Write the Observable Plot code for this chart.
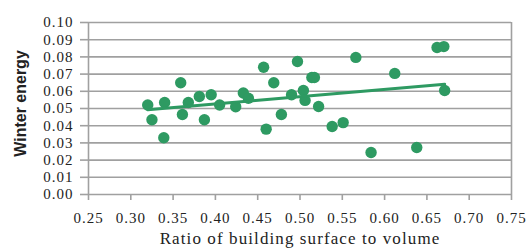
<!DOCTYPE html>
<html><head><meta charset="utf-8">
<script src="https://cdn.jsdelivr.net/npm/d3@7"></script>
<script src="https://cdn.jsdelivr.net/npm/@observablehq/plot@0.6"></script>
<style>body{margin:0;background:#fff}</style>
</head><body><div id="chart"></div>
<script>
const ratio = [0.320,0.325,0.340,0.339,0.359,0.361,0.368,0.381,0.387,0.395,0.405,0.424,0.433,0.439,0.457,0.460,0.469,0.478,0.490,0.497,0.504,0.506,0.514,0.517,0.522,0.538,0.551,0.566,0.584,0.612,0.638,0.662,0.670,0.671];
const energy = [0.052,0.0435,0.0535,0.033,0.065,0.0465,0.0535,0.057,0.0435,0.058,0.052,0.051,0.059,0.056,0.074,0.038,0.065,0.0465,0.058,0.0773,0.0605,0.0547,0.068,0.068,0.0512,0.0395,0.0418,0.0797,0.0244,0.0704,0.0273,0.0855,0.086,0.0605];
const xTicks = [0.25,0.30,0.35,0.40,0.45,0.50,0.55,0.60,0.65,0.70,0.75];
const yTicks = [0.00,0.01,0.02,0.03,0.04,0.05,0.06,0.07,0.08,0.09,0.10];
const xTitle = "Ratio of building surface to volume";
const yTitle = "Winter energy";
const data = ratio.map((r,i)=>({r, e: energy[i]}));
const green = "#2e9a62", grid = "#a0a0a0";
const serif = '"Liberation Serif", "Times New Roman", serif';
const sans = '"Liberation Sans", Arial, sans-serif';
const chart = Plot.plot({
  width: 528, height: 250,
  marginLeft: 88, marginRight: 17, marginTop: 22, marginBottom: 56,
  style: {fontSize: "15px", color: "#222", background: "#fff"},
  x: {domain: [0.25, 0.75]},
  y: {domain: [0, 0.10]},
  marks: [
    Plot.ruleY(yTicks, {stroke: grid, strokeWidth: 1.6}),
    Plot.ruleX([0.25, 0.75], {stroke: grid, strokeWidth: 1.6}),
    Plot.axisY({ticks: yTicks, tickFormat: d3.format(".2f"), tickSize: 8, tickPadding: 7, stroke: grid, strokeWidth: 1.6, label: null, fontSize: 15}),
    Plot.axisX({ticks: xTicks, tickFormat: d3.format(".2f"), tickSize: 6, tickPadding: 12, stroke: grid, strokeWidth: 1.6, label: null, fontSize: 15}),
    Plot.dot(data, {x: "r", y: "e", r: 5.7, fill: green}),
    Plot.linearRegressionY(data, {x: "r", y: "e", stroke: green, strokeWidth: 3, ci: 0}),
    Plot.text([xTitle], {frameAnchor: "bottom", lineAnchor: "middle", dy: 44, text: d=>d, fontSize: 17, fill: "#222"}),
    Plot.text([yTitle], {frameAnchor: "left", textAnchor: "middle", dx: -68, dy: -5, rotate: -90, text: d=>d, fontSize: 16, fill: "#222"})
  ]
});
document.getElementById("chart").append(chart);
chart.querySelectorAll("text").forEach(t=>{
  t.style.fontFamily = serif;
  t.setAttribute("letter-spacing", "1");
  if (t.textContent===xTitle) t.setAttribute("letter-spacing","1.1");
  if (t.textContent===yTitle) { t.style.fontFamily = sans; t.style.fontWeight = "bold"; t.setAttribute("letter-spacing","0"); }
});
</script></body></html>
